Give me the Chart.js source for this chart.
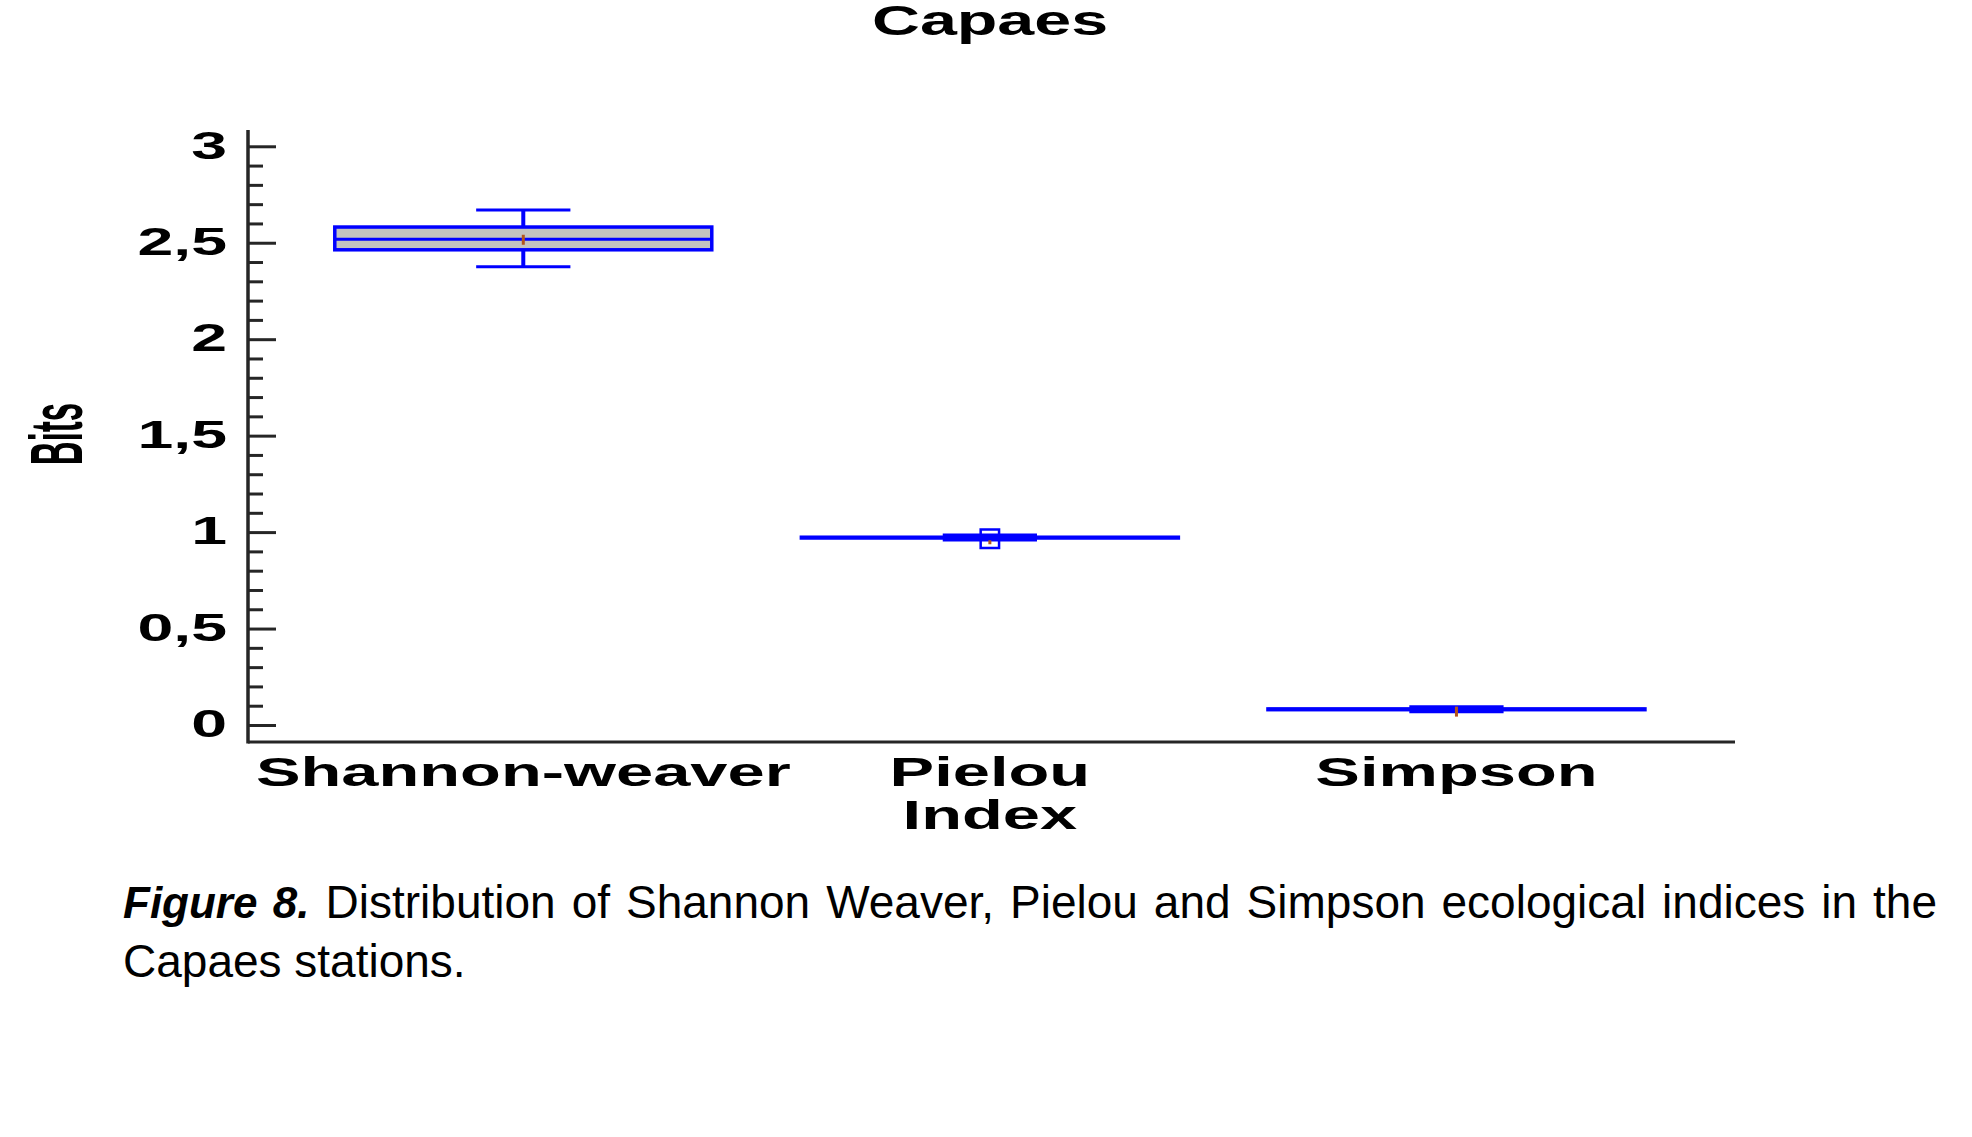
<!DOCTYPE html>
<html>
<head>
<meta charset="utf-8">
<title>Capaes</title>
<script src="https://cdn.jsdelivr.net/npm/chart.js@4.4.1/dist/chart.umd.min.js"></script>
<style>
html, body { margin: 0; padding: 0; background: #fff; overflow: hidden; }
#wrap { position: relative; width: 1972px; height: 1137px; }
#chart { position: absolute; left: 0; top: 0; }
.caption { position: absolute; left: 123px; top: 873px; width: 1814px; font-family: "Liberation Sans", Arial, sans-serif; font-size: 46px; line-height: 58px; color: #000; }
.caption .l1 { text-align: justify; text-align-last: justify; }
.caption .l2 { text-align: left; }
.caption b { font-style: italic; font-size: 44px; }
</style>
</head>
<body>
<div id="wrap">
  <canvas id="chart" width="1972" height="860"></canvas>
  <div class="caption">
    <div class="l1"><b>Figure 8.</b> Distribution of Shannon Weaver, Pielou and Simpson ecological indices in the</div>
    <div class="l2">Capaes stations.</div>
  </div>
</div>
<script>
  var chartTitle = 'Capaes';
  var yAxisTitle = 'Bits';
  var categoryLabels = ['Shannon-weaver', ['Pielou', 'Index'], 'Simpson'];
  var categoryX = [1, 2, 3];

  // box-and-whisker summaries
  var whiskerLow = [2.378, 0.961, 0.071];
  var boxLow = [2.466, 0.972, 0.082];
  var medians = [2.521, 0.974, 0.084];
  var boxHigh = [2.584, 0.976, 0.086];
  var whiskerHigh = [2.672, 0.987, 0.097];
  var means = [2.518, 0.950, 0.072];
  var outliers = [[], [0.968], []];

  var yTickValues = [0, 0.5, 1, 1.5, 2, 2.5, 3];
  var yTickLabels = ['0', '0,5', '1', '1,5', '2', '2,5', '3'];
  var yMinorStep = 0.1;

  var BLUE = '#0000ff';
  var BOX_FILL = '#c3c3c0';
  var AXIS = '#262626';
  var FONT = '"Liberation Sans", Arial, sans-serif';
  var BOX_HALF = 0.404;
  var CAP_HALF = 0.101;

  function drawStretched(ctx, text, x, y, sx, align, baseline) {
    ctx.save();
    ctx.translate(x, y);
    ctx.scale(sx, 1);
    ctx.textAlign = align;
    ctx.textBaseline = baseline || 'alphabetic';
    ctx.fillText(text, 0, 0);
    ctx.restore();
  }

  function seg(ctx, x1, y1, x2, y2) {
    ctx.beginPath();
    ctx.moveTo(x1, y1);
    ctx.lineTo(x2, y2);
    ctx.stroke();
  }

  var boxPlotPlugin = {
    id: 'boxPlot',
    beforeDatasetsDraw: function (chart) {
      var ctx = chart.ctx;
      var xs = chart.scales.x;
      var ys = chart.scales.y;
      ctx.save();
      ctx.strokeStyle = BLUE;
      ctx.lineCap = 'butt';
      categoryX.forEach(function (cx, i) {
        var left = xs.getPixelForValue(cx - BOX_HALF);
        var right = xs.getPixelForValue(cx + BOX_HALF);
        var capL = xs.getPixelForValue(cx - CAP_HALF);
        var capR = xs.getPixelForValue(cx + CAP_HALF);
        var mid = xs.getPixelForValue(cx);
        var yLo = ys.getPixelForValue(whiskerLow[i]);
        var yQ1 = ys.getPixelForValue(boxLow[i]);
        var yMed = ys.getPixelForValue(medians[i]);
        var yQ3 = ys.getPixelForValue(boxHigh[i]);
        var yHi = ys.getPixelForValue(whiskerHigh[i]);

        ctx.lineWidth = 4;
        seg(ctx, mid, yQ3, mid, yHi);
        seg(ctx, mid, yQ1, mid, yLo);
        ctx.lineWidth = 3;
        seg(ctx, capL, yHi, capR, yHi);
        seg(ctx, capL, yLo, capR, yLo);

        ctx.fillStyle = BOX_FILL;
        ctx.fillRect(left, yQ3, right - left, yQ1 - yQ3);
        ctx.lineWidth = 3.5;
        ctx.strokeRect(left, yQ3, right - left, yQ1 - yQ3);
        ctx.lineWidth = 3;
        seg(ctx, left, yMed, right, yMed);
      });
      ctx.restore();
    }
  };

  var axesPlugin = {
    id: 'axesText',
    afterDatasetsDraw: function (chart) {
      var ctx = chart.ctx;
      var area = chart.chartArea;
      var xs = chart.scales.x;
      var ys = chart.scales.y;
      ctx.save();
      ctx.strokeStyle = AXIS;
      ctx.lineWidth = 3.5;
      seg(ctx, area.left, area.top, area.left, area.bottom + 1.5);
      ctx.lineWidth = 3;
      seg(ctx, area.left, area.bottom, area.right, area.bottom);

      // ticks sit inside the plot, to the right of the axis
      ctx.lineWidth = 3;
      var n = Math.round(3 / yMinorStep);
      for (var k = 0; k <= n; k++) {
        var v = k * yMinorStep;
        var py = ys.getPixelForValue(v);
        var major = k % 5 === 0;
        seg(ctx, area.left, py, area.left + (major ? 28 : 15), py);
      }

      ctx.fillStyle = '#000';
      ctx.font = 'bold 39px ' + FONT;
      yTickValues.forEach(function (v, i) {
        drawStretched(ctx, yTickLabels[i], 227, ys.getPixelForValue(v) + 1, 1.65, 'right', 'middle');
      });

      ctx.font = 'bold 41px ' + FONT;
      categoryX.forEach(function (cx, i) {
        var lines = [].concat(categoryLabels[i]);
        var px = xs.getPixelForValue(cx);
        lines.forEach(function (t, j) {
          drawStretched(ctx, t, px, 786 + j * 43, 1.63, 'center');
        });
      });

      ctx.font = 'bold 42px ' + FONT;
      drawStretched(ctx, chartTitle, (area.left + area.right) / 2 - 1.5, 35, 1.58, 'center');

      ctx.font = 'bold 33px ' + FONT;
      ctx.save();
      ctx.translate(62, 434);
      ctx.scale(2.25, 1);
      ctx.rotate(-Math.PI / 2);
      ctx.textAlign = 'center';
      ctx.textBaseline = 'middle';
      ctx.fillText(yAxisTitle, 0, 0);
      ctx.restore();
      ctx.restore();
    }
  };

  var outlierPoints = [];
  outliers.forEach(function (list, i) {
    list.forEach(function (v) { outlierPoints.push({ x: categoryX[i], y: v }); });
  });
  var meanPoints = categoryX.map(function (cx, i) { return { x: cx, y: means[i] }; });

  new Chart(document.getElementById('chart').getContext('2d'), {
    type: 'scatter',
    data: {
      datasets: [
        {
          label: 'Outside points',
          data: outlierPoints,
          pointStyle: 'rect',
          pointRadius: 13,
          borderColor: BLUE,
          borderWidth: 2.5,
          backgroundColor: 'rgba(0,0,0,0)'
        },
        {
          label: 'Mean',
          data: meanPoints,
          pointStyle: 'line',
          rotation: 90,
          pointRadius: [5, 2, 5],
          borderColor: '#b4541c',
          borderWidth: 3
        }
      ]
    },
    options: {
      responsive: false,
      animation: false,
      devicePixelRatio: 1,
      layout: { padding: { left: 248, right: 237, top: 130, bottom: 118 } },
      plugins: {
        legend: { display: false },
        tooltip: { enabled: false },
        title: { display: false }
      },
      scales: {
        x: { type: 'linear', min: 0.410, max: 3.597, display: false },
        y: { type: 'linear', min: -0.0855, max: 3.087, display: false }
      }
    },
    plugins: [boxPlotPlugin, axesPlugin]
  });
</script>
</body>
</html>
